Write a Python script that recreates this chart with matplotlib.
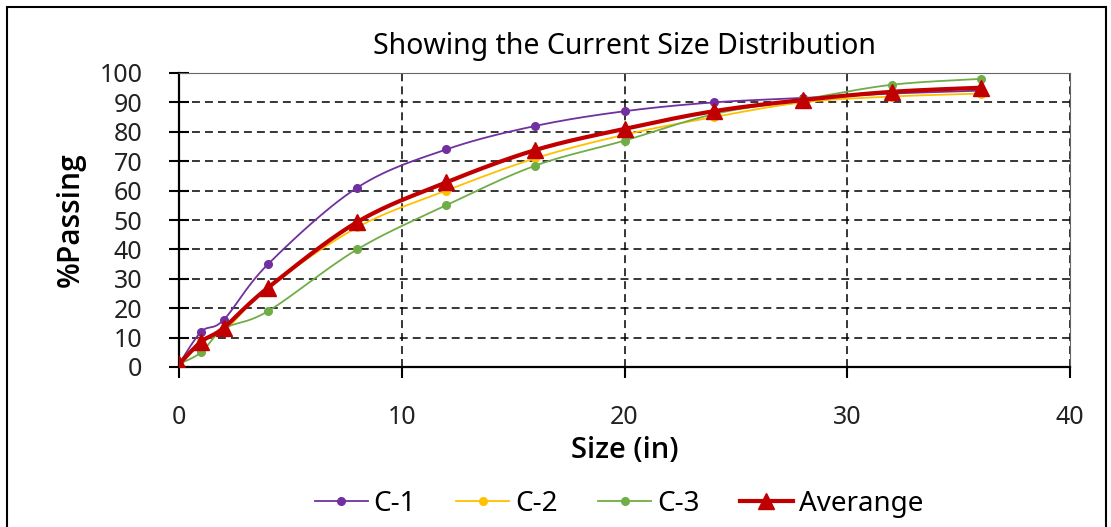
import numpy as np
import matplotlib
matplotlib.use("Agg")
import matplotlib.pyplot as plt
from matplotlib.patches import Rectangle

# Particle size distribution data
sizes = [0, 1, 2, 4, 8, 12, 16, 20, 24, 28, 32, 36]
c1 = [1, 12, 16, 35, 61, 74, 82, 87, 90, 91.5, 93, 94]
c2 = [1, 9, 12, 27, 47.5, 60, 71, 79, 85, 90, 92, 93]
c3 = [1, 5, 13, 19, 40, 55, 68.5, 77, 86, 91, 96, 98]
average = [1, 8.6, 13.3, 27, 49.3, 62.8, 73.8, 81, 87, 90.8, 93.6, 95]

series_names = ["C-1", "C-2", "C-3", "Averange"]
x_ticks = [0, 10, 20, 30, 40]
y_ticks = list(range(0, 101, 10))

plt.rcParams['font.family'] = ['Noto Sans', 'DejaVu Sans']


def smooth(xs, ys, n=30):
    """Cubic Bezier smoothing through every point (spreadsheet-style)."""
    xs = np.asarray(xs, float)
    ys = np.asarray(ys, float)
    pts = np.column_stack([xs, ys])
    out = [pts[0]]
    m = len(pts)
    t = np.linspace(0, 1, n)[1:, None]
    for i in range(m - 1):
        p0 = pts[i - 1] if i > 0 else pts[i]
        p1 = pts[i]
        p2 = pts[i + 1]
        p3 = pts[i + 2] if i + 2 < m else pts[i + 1]
        c1p = p1 + (p2 - p0) / 6.0
        c2p = p2 - (p3 - p1) / 6.0
        seg = ((1 - t) ** 3) * p1 + 3 * ((1 - t) ** 2) * t * c1p \
            + 3 * (1 - t) * t ** 2 * c2p + t ** 3 * p2
        out.extend(seg)
    out = np.array(out)
    return out[:, 0], out[:, 1]


fig = plt.figure(figsize=(11.11, 5.27), dpi=100)
ax = fig.add_axes([179 / 1111, 1 - 367 / 527, (1070 - 179) / 1111, (367 - 73) / 527])

styles = [
    (c1, "#7030A0", "o", 5.5, 1.3),
    (c2, "#FFC000", "o", 5.5, 1.3),
    (c3, "#70AD47", "o", 5.5, 1.3),
]
handles = []
for (vals, col, mk, ms, lw), name in zip(styles, series_names[:3]):
    sx, sy = smooth(sizes, vals)
    ax.plot(sx, sy, color=col, lw=lw, zorder=3, solid_capstyle='round')
    ax.plot(sizes, vals, linestyle='none', marker=mk, ms=ms, color=col, zorder=4)
    h, = ax.plot([], [], color=col, lw=lw, marker=mk, ms=ms, label=name)
    handles.append(h)

sx, sy = smooth(sizes, average)
ax.plot(sx, sy, color="#C00000", lw=3.0, zorder=5, solid_capstyle='round')
ax.plot(sizes, average, linestyle='none', marker='^', ms=11, color="#C00000", zorder=6)
h, = ax.plot([], [], color="#C00000", lw=3.0, marker='^', ms=11, label=series_names[3])
handles.append(h)

ax.set_xlim(0, 40)
ax.set_ylim(0, 100)
ax.set_xticks(x_ticks)
ax.set_yticks(y_ticks)
ax.grid(True, color='black', linestyle=(0, (5.2, 3.3)), linewidth=1.1, zorder=1)
ax.set_axisbelow(True)

for side in ['top', 'right']:
    ax.spines[side].set_color('#666666')
    ax.spines[side].set_linewidth(0.8)
for side in ['left', 'bottom']:
    ax.spines[side].set_color('black')
    ax.spines[side].set_linewidth(1.6)

ax.tick_params(axis='y', direction='inout', length=14.4, width=1.5, labelsize=18, pad=19)
ax.tick_params(axis='x', direction='out', length=8, width=1.5, labelsize=18, pad=19)
for lab in ax.get_xticklabels() + ax.get_yticklabels():
    lab.set_color('#222222')

ax.set_title("Showing the Current Size Distribution", fontsize=20.5, pad=14, color='black')
ax.set_xlabel("Size (in)", fontsize=21, fontweight='semibold', labelpad=5,
              family=['Open Sans', 'DejaVu Sans'])
ax.set_ylabel("%Passing", fontsize=21.5, fontweight='semibold', labelpad=10,
              family=['Open Sans', 'DejaVu Sans'])

fig.legend(handles=handles, loc='center', bbox_to_anchor=(619 / 1111, 1 - 504 / 527),
           ncol=4, frameon=False, fontsize=20, handlelength=1.9, handletextpad=0.22,
           columnspacing=1.45, borderaxespad=0, borderpad=0)

# Thin frame around the whole chart
fig.patches.append(Rectangle((7 / 1111, -0.05), (1106 - 7) / 1111, 1 - 7 / 527 + 0.05,
                             transform=fig.transFigure, fill=False, edgecolor='black',
                             linewidth=1.5))

fig.savefig("out.png", dpi=100)
